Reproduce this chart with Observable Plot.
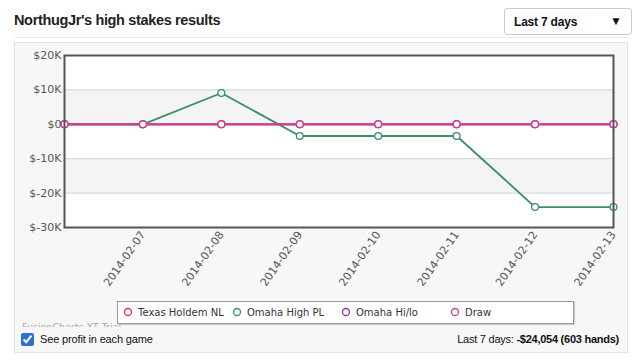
<!DOCTYPE html>
<html><head><meta charset="utf-8">
<script src="https://cdn.jsdelivr.net/npm/d3@7"></script>
<script src="https://cdn.jsdelivr.net/npm/@observablehq/plot@0.6"></script>
<style>
body{margin:0;width:640px;height:361px;background:#fff;position:relative;overflow:hidden;font-family:"Liberation Sans",Arial,sans-serif;}
#title{position:absolute;left:14px;top:12px;font-weight:bold;font-size:14.5px;color:#222;letter-spacing:-0.35px}
#dd{position:absolute;left:504px;top:8px;width:128px;height:27px;border:1px solid #ccc;border-radius:3px;background:#fff;box-sizing:border-box;font-size:12px;font-weight:bold;color:#111}
#dd .t{position:absolute;left:9px;top:6px;letter-spacing:-0.2px}
#dd .a{position:absolute;right:9px;top:5px;font-size:12px}
#sep{position:absolute;left:14px;top:37px;width:614px;height:1px;background:#ececec}
#panel{position:absolute;left:14px;top:42px;width:614px;height:311px;background:#f7f7f7;border:1px solid #e2e2e2;box-sizing:border-box}
#chart{position:absolute;left:0;top:0}
#wm{position:absolute;left:22px;top:322px;height:5px;overflow:hidden;width:200px}
#wm span{position:absolute;top:0px;font-family:"DejaVu Sans";font-size:9.5px;line-height:9px;color:#aaa;white-space:nowrap}
#legend{position:absolute;left:117px;top:301px;width:457px;height:23px;background:#fff;border:1px solid #9a9a9a;box-sizing:border-box;font-family:"DejaVu Sans";font-size:10px;color:#333;box-shadow:1px 1px 1px #ccc}
#legend .it{position:absolute;top:4px;white-space:nowrap;line-height:13px}
#legend svg{vertical-align:-1px;margin-right:5px}
#cb{position:absolute;left:21px;top:333px;margin:0;width:13px;height:13px;accent-color:#2f6fd0}
#cbl{position:absolute;left:40px;top:333px;font-size:11px;line-height:13px;color:#111;letter-spacing:-0.15px}
#tot{position:absolute;right:21px;top:333px;font-size:11px;line-height:13px;color:#111;letter-spacing:-0.25px}
</style></head>
<body>
<div id="title">NorthugJr's high stakes results</div>
<div id="dd"><span class="t">Last 7 days</span><span class="a">▼</span></div>
<div id="sep"></div>
<div id="panel"></div>
<div id="chart"></div>
<div id="wm"><span>FusionCharts XT Trial</span></div>
<div id="legend"></div>
<input type="checkbox" id="cb" checked>
<div id="cbl">See profit in each game</div>
<div id="tot">Last 7 days: <b>-$24,054 (603 hands)</b></div>
<script>
const dates = ["2014-02-06","2014-02-07","2014-02-08","2014-02-09","2014-02-10","2014-02-11","2014-02-12","2014-02-13"];
const xTickLabels = ["2014-02-07","2014-02-08","2014-02-09","2014-02-10","2014-02-11","2014-02-12","2014-02-13"];
const seriesNames = ["Texas Holdem NL","Omaha High PL","Omaha Hi/lo","Draw"];
const seriesColors = ["#e0304a","#3a8f63","#8d3a9a","#cf3f96"];
const texasHoldemNL = [0,0,0,0,0,0,0,0];
const omahaHighPL = [0,0,9100,-3400,-3400,-3400,-24054,-24054];
const omahaHiLo = [0,0,0,0,0,0,0,0];
const drawGame = [0,0,0,0,0,0,0,0];
const yTicks = [20000,10000,0,-10000,-20000,-30000];

const seriesValues = [texasHoldemNL, omahaHighPL, omahaHiLo, drawGame];
const parse = d3.utcParse("%Y-%m-%d");
const rows = seriesNames.flatMap((s,i) => dates.map((d,j) => ({series:s, date:parse(d), value:seriesValues[i][j]})));
const bands = yTicks.slice(0,-1).map((t,i) => ({hi:t, lo:yTicks[i+1], i})).filter(b => b.i % 2 === 1);
const grid = yTicks.slice(1,-1);

const chart = Plot.plot({
  width: 640, height: 300,
  marginLeft: 64, marginRight: 27, marginTop: 55, marginBottom: 73,
  style: {background: "transparent", fontFamily: "DejaVu Sans", fontSize: "11px", overflow: "visible"},
  x: {type: "utc", domain: [parse(dates[0]), parse(dates[dates.length-1])], label: null},
  y: {domain: [yTicks[yTicks.length-1], yTicks[0]], label: null},
  color: {domain: seriesNames, range: seriesColors},
  marks: [
    Plot.frame({fill: "white"}),
    Plot.rect(bands, {y1: "lo", y2: "hi", fill: "#f4f4f4"}),
    Plot.ruleY(grid, {stroke: "#d2d2d2", strokeWidth: 1}),
    Plot.line(rows, {x: "date", y: "value", z: "series", stroke: "series", strokeWidth: 1.8}),
    Plot.dot(rows, {x: "date", y: "value", stroke: "series", fill: "white", r: 3.4, strokeWidth: 1.3}),
    Plot.frame({stroke: "#555", strokeWidth: 2}),
    Plot.axisY({ticks: yTicks, tickFormat: d => d === 0 ? "$0" : `$${d/1000}K`, tickSize: 0, tickPadding: 3, fill: "#555", label: null}),
    Plot.axisX({ticks: xTickLabels.map(parse), tickFormat: d3.utcFormat("%Y-%m-%d"), tickRotate: -55, tickSize: 0, tickPadding: 5, fill: "#555", label: null})
  ]
});
document.getElementById("chart").appendChild(chart);

const legend = document.getElementById("legend");
seriesNames.forEach((s,i) => {
  const it = document.createElement("span");
  it.className = "it";
  it.style.left = (5 + i*109) + "px";
  it.innerHTML = `<svg width="10" height="10"><circle cx="5" cy="5" r="3.5" fill="white" stroke="${seriesColors[i]}" stroke-width="1.3"/></svg>`;
  it.appendChild(document.createTextNode(s));
  legend.appendChild(it);
});
</script>
</body></html>
